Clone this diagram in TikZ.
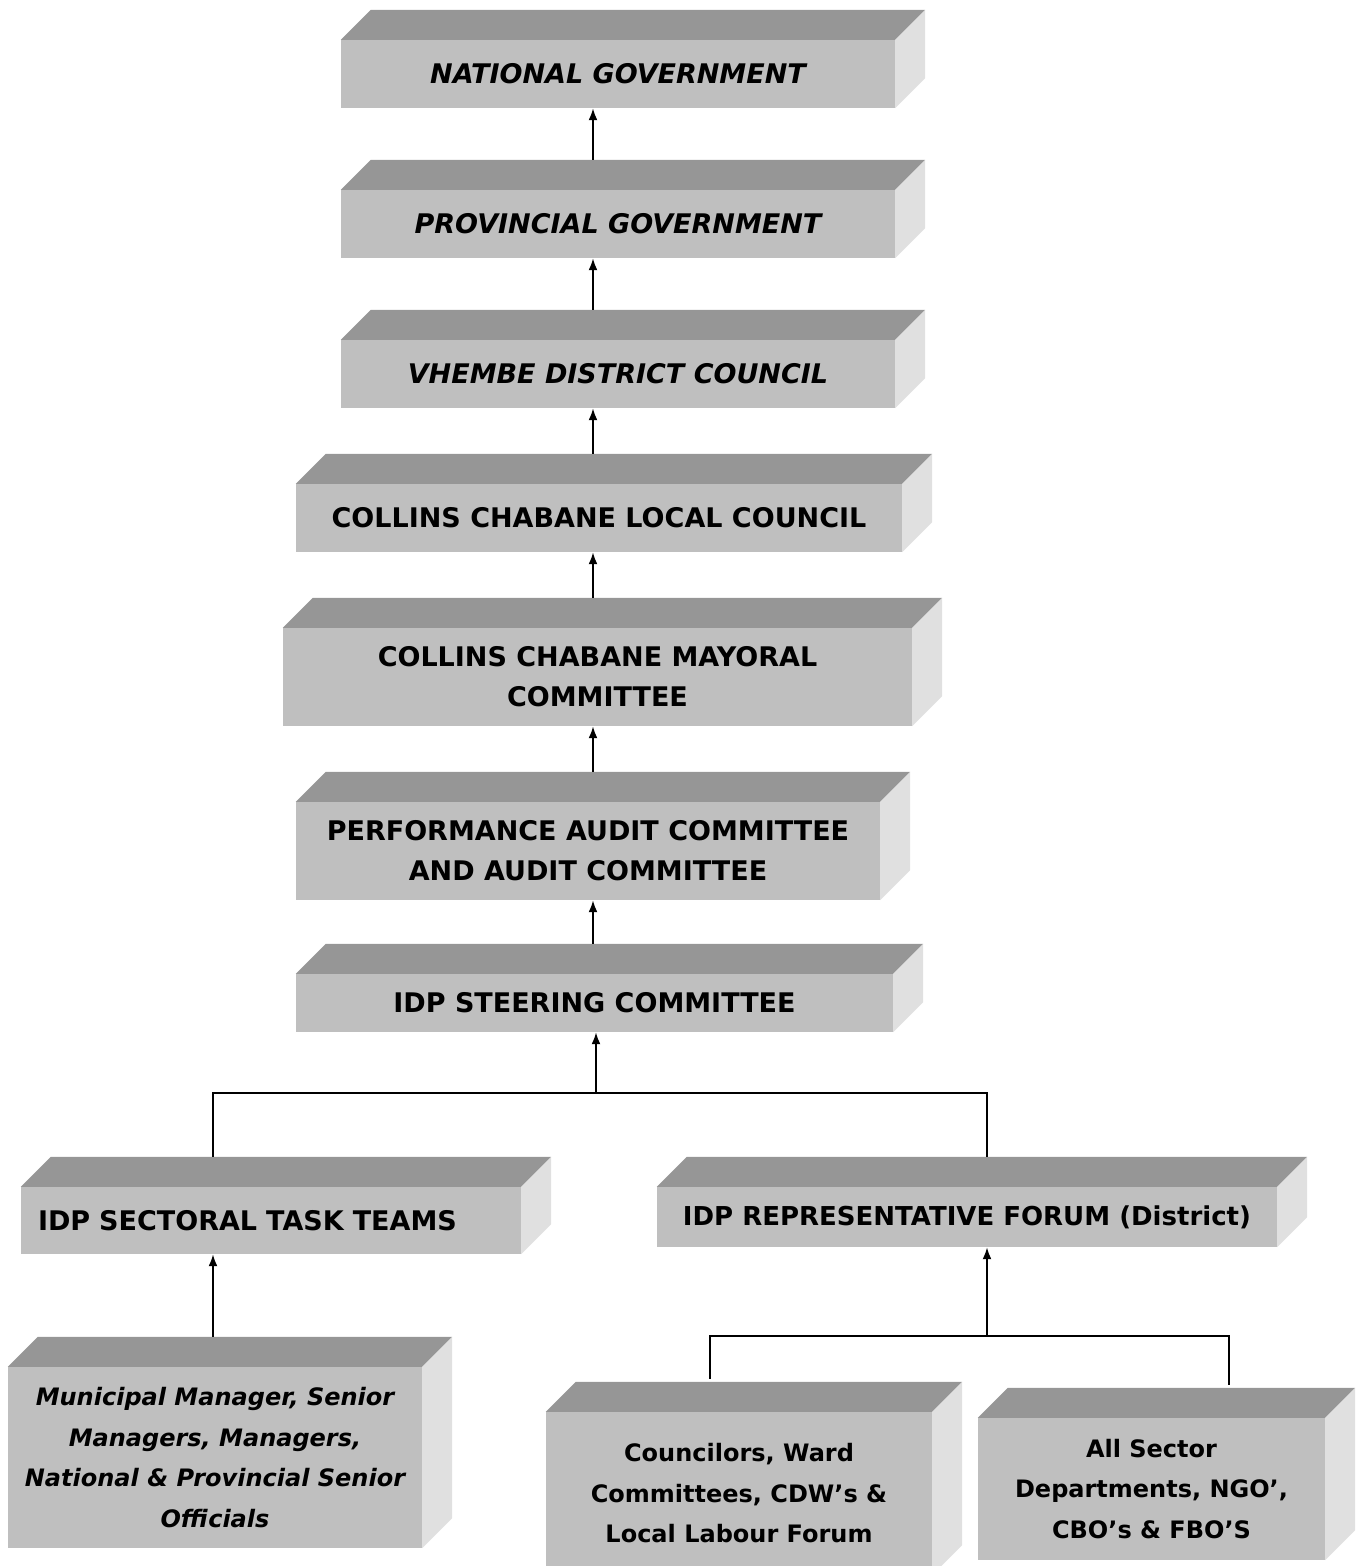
\documentclass[tikz,border=0pt]{standalone}
\usepackage{fontspec}
\setmainfont{DejaVu Sans}
\usetikzlibrary{arrows.meta}

\definecolor{frontgray}{gray}{0.75}
\definecolor{topgray}{gray}{0.59}
\definecolor{sidegray}{gray}{0.88}

\begin{document}
\begin{tikzpicture}[x=1pt, y=-1pt,
	box/.style={fill=frontgray, inner sep=0pt, align=center,
		font=\fontsize{27}{40}\selectfont\bfseries},
	slanted/.style={font=\fontsize{27}{40}\selectfont\bfseries\itshape},
	small/.style={font=\fontsize{24}{40.5}\selectfont\bfseries},
	smallslanted/.style={font=\fontsize{24}{40.5}\selectfont\bfseries\itshape},
	link/.style={line width=2pt},
	arrow/.style={link, -{Latex[length=12pt,width=9pt]}}]
	\useasboundingbox (0,0) rectangle (1362,1566);

	\node[box, slanted, minimum width=554pt, minimum height=68pt] (nat) at (618,74) {NATIONAL GOVERNMENT};
	\node[box, slanted, minimum width=554pt, minimum height=68pt] (prov) at (618,224) {PROVINCIAL GOVERNMENT};
	\node[box, slanted, minimum width=554pt, minimum height=68pt] (vhem) at (618,374) {VHEMBE DISTRICT COUNCIL};
	\node[box, minimum width=606pt, minimum height=68pt] (local) at (599,518) {COLLINS CHABANE LOCAL COUNCIL};
	\node[box, minimum width=629pt, minimum height=98pt] (mayor) at (597.5,677) {COLLINS CHABANE MAYORAL\\COMMITTEE};
	\node[box, minimum width=584pt, minimum height=98pt] (perf) at (588,851) {PERFORMANCE AUDIT COMMITTEE\\AND AUDIT COMMITTEE};
	\node[box, minimum width=597pt, minimum height=58pt] (steer) at (594.5,1003) {IDP STEERING COMMITTEE};

	\node[box, align=left, inner xsep=17pt, text width=466pt, minimum height=67pt] (sect) at (271,1220.5) {IDP SECTORAL TASK TEAMS};
	\node[box, font=\fontsize{26}{40}\selectfont\bfseries, minimum width=620pt, minimum height=60pt] (rep) at (967,1217) {IDP REPRESENTATIVE FORUM (District)};

	\node[box, smallslanted, minimum width=414pt, minimum height=181pt] (mun) at (215,1457.5) {Municipal Manager, Senior\\Managers, Managers,\\National \& Provincial Senior\\Officials};
	\node[box, small, minimum width=386pt, minimum height=163pt] (coun) at (739,1493.5) {Councilors, Ward\\Committees, CDW's \&\\Local Labour Forum};
	\node[box, small, minimum width=347pt, minimum height=142pt] (allsec) at (1151.5,1489) {All Sector\\Departments, NGO',\\CBO's \& FBO'S};

	% top and side faces
	\foreach \n in {nat,prov,vhem,local,mayor,perf,steer,sect,rep,mun,coun,allsec} {
		\fill[topgray] (\n.north west) -- ([xshift=30pt,yshift=30pt]\n.north west)
			-- ([xshift=30pt,yshift=30pt]\n.north east) -- (\n.north east) -- cycle;
		\fill[sidegray] (\n.north east) -- ([xshift=30pt,yshift=30pt]\n.north east)
			-- ([xshift=30pt,yshift=30pt]\n.south east) -- (\n.south east) -- cycle;
		\coordinate (\n-top) at ([yshift=30pt]\n.north);
	}

	\coordinate (spine) at (593,0);
	\draw[arrow] (prov-top -| spine) -- (nat.south -| spine);
	\draw[arrow] (vhem-top -| spine) -- (prov.south -| spine);
	\draw[arrow] (local-top -| spine) -- (vhem.south -| spine);
	\draw[arrow] (mayor-top -| spine) -- (local.south -| spine);
	\draw[arrow] (perf-top -| spine) -- (mayor.south -| spine);
	\draw[arrow] (steer-top -| spine) -- (perf.south -| spine);

	\coordinate (split) at (596,1093);
	\coordinate (left) at (213,1093);
	\coordinate (right) at (987,1093);
	\draw[link] (left |- sect-top) -- (left) -- (right) -- (right |- rep-top);
	\draw[arrow] (split) -- (split |- steer.south);
	\draw[arrow] (left |- mun-top) -- (left |- sect.south);

	\coordinate (join) at (987,1336);
	\coordinate (cleft) at (710,1336);
	\coordinate (cright) at (1229,1336);
	\draw[link] ([yshift=3pt]cleft |- coun-top) -- (cleft) -- (cright) -- ([yshift=3pt]cright |- allsec-top);
	\draw[arrow] (join) -- (join |- rep.south);

\end{tikzpicture}
\end{document}
